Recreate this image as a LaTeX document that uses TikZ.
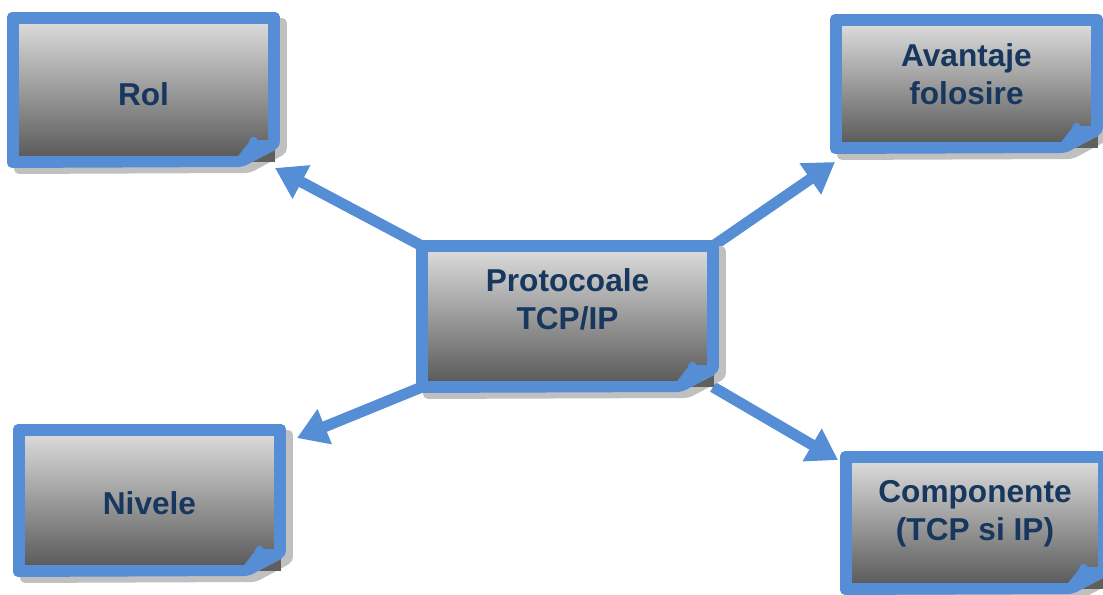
\documentclass[tikz,border=0pt]{standalone}
\usepackage{fontspec}
\setmainfont{Liberation Sans}
\usetikzlibrary{calc,arrows.meta}

\definecolor{cardblue}{HTML}{558ED5}
\definecolor{cardink}{HTML}{17375E}
\definecolor{cardtop}{HTML}{D9D9D9}
\definecolor{cardmid}{HTML}{B2B2B2}
\definecolor{cardbot}{HTML}{5C5C5C}
\definecolor{cardshade}{HTML}{C0C0C0}
\definecolor{cardfold}{HTML}{5F5F5F}

\pgfdeclarelayer{arrowlayer}
\pgfdeclarelayer{cardlayer}
\pgfsetlayers{arrowlayer,cardlayer,main}

\tikzset{
  card/.style={inner sep=0pt, outer sep=0pt},
  cardtext/.style={text=cardink, align=center,
    font=\bfseries\fontsize{18}{21.5}\selectfont},
  link/.style={cardblue, line width=0.22cm,
    -{Triangle[length=0.6cm,width=0.72cm]}},
}

% shadow, blue frame, grey body and folded corner of one card
\newcommand{\drawcard}[1]{
  \coordinate (nw) at (#1.north west);
  \coordinate (ne) at (#1.north east);
  \coordinate (se) at (#1.south east);
  \coordinate (sw) at (#1.south west);
  \fill[cardshade, rounded corners=0.1cm] ($(nw)+(1,0)$) -- ($(ne)+(13,0)$)
    -- ($(se)+(13,-9)$) -- ($(se)+(-24,11)$) -- ($(sw)+(1,12)$) -- cycle;
  \fill[cardfold] ($(se)+(-22,0)$) -- ($(se)+(1,-12)$) -- ($(se)+(1,0)$) -- cycle;
  \fill[cardblue, rounded corners=0.1cm] ($(nw)+(-6,-6)$) -- ($(ne)+(6,-6)$)
    -- ($(se)+(6,-15)$) -- ($(se)+(-31,5)$) -- ($(sw)+(-6,6)$) -- cycle;
  \shade[top color=cardtop, middle color=cardmid, bottom color=cardbot]
    ($(nw)+(6,6)$) -- ($(ne)+(-6,6)$) -- ($(se)+(-6,-22)$) -- ($(se)+(-16,-22)$)
    .. controls ($(se)+(-18,-27)$) and ($(se)+(-24,-27)$) .. ($(se)+(-25,-20)$)
    -- ($(se)+(-36,-6)$) -- ($(sw)+(6,-6)$) -- cycle;
}

\begin{document}
\begin{tikzpicture}[x=0.02cm, y=-0.02cm]
  \useasboundingbox (0,0) rectangle (1103,595);

  % cards
  \node[card, minimum width=5.22cm, minimum height=2.88cm] (rol) at (143.5,90) {};
  \node[card, minimum width=5.22cm, minimum height=2.56cm] (avant) at (966.5,84) {};
  \node[card, minimum width=5.82cm, minimum height=2.82cm] (proto) at (567.5,316.5) {};
  \node[card, minimum width=5.22cm, minimum height=2.82cm] (nivele) at (149.5,500.5) {};
  \node[card, minimum width=5.16cm, minimum height=2.64cm] (comp) at (975,523) {};

  \begin{pgfonlayer}{cardlayer}
    \foreach \c in {rol,avant,proto,nivele,comp}
      {\drawcard{\c}}
  \end{pgfonlayer}

  % texts
  \node[cardtext] (rol-t) at ($(rol)+(0,4)$) {Rol};
  \node[cardtext] (avant-t) at ($(avant)+(0,-10)$) {Avantaje\\folosire};
  \node[cardtext] (proto-t) at ($(proto)+(0,-17)$) {Protocoale\\TCP/IP};
  \node[cardtext] (nivele-t) at ($(nivele)+(0,2.5)$) {Nivele};
  \node[cardtext] (comp-t) at ($(comp)+(0,-9)$) {Componente\\(TCP si IP)};

  % arrows from the centre
  \begin{pgfonlayer}{arrowlayer}
    \draw[link] (proto.north west) -- ($(rol.south east)+(1,6)$);
    \draw[link] (proto.north east) -- ($(avant.south west)+(-1,14)$);
    \draw[link] (proto.south west) -- ($(nivele.north east)+(17,8)$);
    \draw[link] (proto.south east) -- ($(comp.north west)+(-8,3)$);
  \end{pgfonlayer}
\end{tikzpicture}
\end{document}
